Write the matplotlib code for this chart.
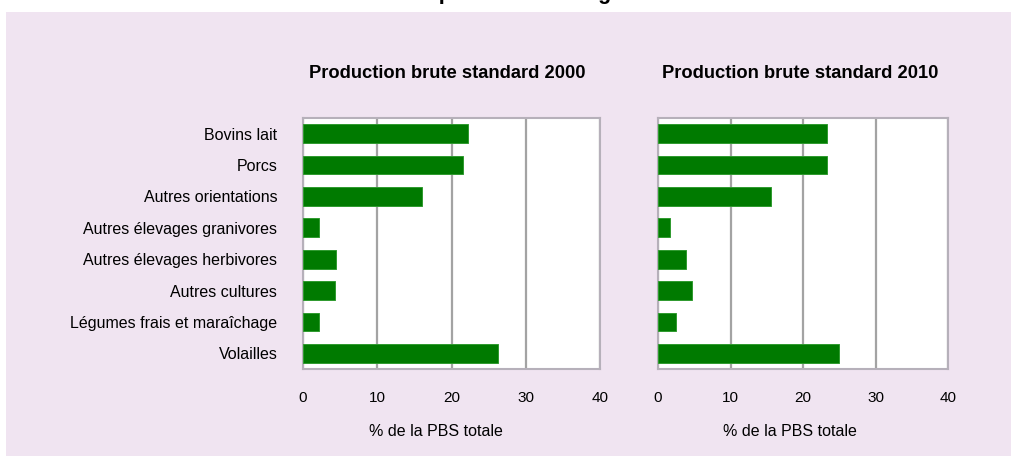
import matplotlib
matplotlib.use("Agg")
from matplotlib import pyplot as plt
from matplotlib.patches import Rectangle

plt.rcParams['font.family'] = ['Liberation Sans', 'DejaVu Sans']

# données
categories = ["Bovins lait", "Porcs", "Autres orientations",
              "Autres élevages granivores", "Autres élevages herbivores",
              "Autres cultures", "Légumes frais et maraîchage", "Volailles"]
pbs_2000 = [22.2, 21.6, 16.0, 2.2, 4.5, 4.3, 2.1, 26.2]
pbs_2010 = [23.3, 23.3, 15.6, 1.7, 3.8, 4.7, 2.5, 24.9]
titres = ["Production brute standard 2000", "Production brute standard 2010"]
xticks = [0, 10, 20, 30, 40]

W, H = 1011, 458
fig = plt.figure(figsize=(W / 100, H / 100), dpi=100)
fig.patch.set_facecolor('white')

# fond rose
fond = fig.add_axes([0, 0, 1, 1], zorder=-10)
fond.axis('off')
fond.add_patch(Rectangle((6 / W, 2 / H), 1 - 6 / W, (456 - 12) / H,
                         transform=fond.transAxes, facecolor='#f0e4f1',
                         edgecolor='none'))

# titre tronqué en haut
fig.text(10 / W, 1 + 1.5 / H, "Poids des orientations technico-économiques de la Bretagne",
         fontsize=15.5, fontweight='bold', ha='left', va='baseline')

positions = [(303, 600), (658, 948)]
xlabel_x = [436, 790]
titre_x = [447, 800]
for i, (vals, titre) in enumerate(zip([pbs_2000, pbs_2010], titres)):
    x0, x1 = positions[i]
    ax = fig.add_axes([x0 / W, (H - 369) / H, (x1 - x0) / W, (369 - 118) / H], zorder=1)
    ax.set_facecolor('white')
    ypos = range(len(categories))
    ax.barh(ypos, vals, height=0.6, color='#007a00', edgecolor='#2f9a2f',
            linewidth=0.7, zorder=3)
    ax.set_xlim(0, 40)
    ax.set_ylim(len(categories) - 0.5, -0.5)
    ax.set_xticks(xticks)
    ax.set_xticklabels([str(t) for t in xticks], fontsize=11)
    ax.xaxis.grid(True, color='#a3a3a3', linewidth=1.6, zorder=1)
    ax.set_axisbelow(True)
    ax.tick_params(axis='both', length=0)
    ax.tick_params(axis='x', pad=16)
    ax.tick_params(axis='y', pad=18.5)
    if i == 0:
        ax.set_yticks(list(ypos))
        ax.set_yticklabels(categories, fontsize=11.5)
    else:
        ax.set_yticks([])
    for s in ax.spines.values():
        s.set_color('#b6b0ba')
        s.set_linewidth(1.5)
    fig.text(titre_x[i] / W, 1 - 73 / H, titre, fontsize=13.2, fontweight='bold',
             ha='center', va='center')
    fig.text(xlabel_x[i] / W, 1 - 432 / H, "% de la PBS totale", fontsize=11.5,
             ha='center', va='center')

plt.savefig('out.png', dpi=100)
